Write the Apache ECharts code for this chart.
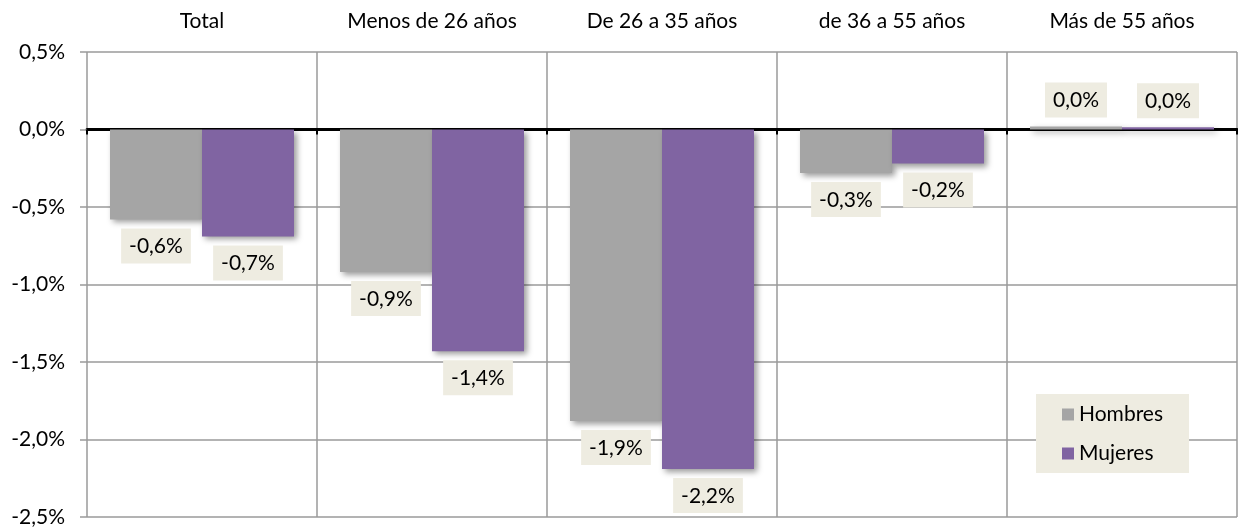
<!DOCTYPE html>
<html>
<head>
<meta charset="utf-8">
<script src="https://cdn.jsdelivr.net/npm/echarts@6/dist/echarts.min.js"></script>
<style>
  html, body { margin: 0; padding: 0; background: #fff; }
  #chart { width: 1238px; height: 529px; }
</style>
</head>
<body>
<div id="chart"></div>
<script>
const categories = ['Total', 'Menos de 26 años', 'De 26 a 35 años', 'de 36 a 55 años', 'Más de 55 años'];
const seriesNames = ['Hombres', 'Mujeres'];
const hombres = [-0.58, -0.92, -1.88, -0.28, 0.02];
const mujeres = [-0.69, -1.43, -2.19, -0.22, 0.015];
const yMin = -2.5, yMax = 0.5, yInterval = 0.5;

const FONT = 'Lato';
const FS = 21;
const GRID_COLOR = '#9a9a9a';
const fmt = v => v.toFixed(1).replace('.', ',') + '%';

const labelStyle = {
  show: true,
  position: 'outside',
  distance: 9,
  formatter: p => fmt(p.value),
  backgroundColor: '#EEECE1',
  padding: [8, 8, 7, 8],
  lineHeight: 20,
  fontSize: FS,
  fontFamily: FONT,
  color: '#000'
};
const shadow = {
  shadowColor: 'rgba(0,0,0,0.4)',
  shadowBlur: 6,
  shadowOffsetX: 3,
  shadowOffsetY: 3
};

const chart = echarts.init(document.getElementById('chart'));
chart.setOption({
  animation: false,
  backgroundColor: '#fff',
  grid: { left: 87, right: 1, top: 52, bottom: 12, containLabel: false },
  legend: {
    orient: 'vertical',
    left: 1036,
    top: 394,
    backgroundColor: '#EEECE1',
    padding: [10, 26, 9, 26],
    itemGap: 18,
    itemWidth: 12,
    itemHeight: 12,
    icon: 'rect',
    data: seriesNames,
    textStyle: { fontSize: FS, fontFamily: FONT, color: '#000', lineHeight: 20 }
  },
  xAxis: [
    {
      type: 'category',
      data: categories,
      position: 'top',
      axisLine: { show: false, onZero: false },
      axisTick: { show: false },
      axisLabel: { margin: 20, fontSize: FS, fontFamily: FONT, color: '#000' },
      splitLine: { show: true, lineStyle: { color: GRID_COLOR, width: 1.5 } }
    },
    {
      type: 'category',
      data: categories,
      position: 'bottom',
      axisLine: { show: true, onZero: true, lineStyle: { color: '#000', width: 3 } },
      axisTick: { show: true, length: 5, lineStyle: { color: '#000', width: 2 } },
      axisLabel: { show: false },
      splitLine: { show: false }
    }
  ],
  yAxis: {
    type: 'value',
    min: yMin,
    max: yMax,
    interval: yInterval,
    axisLine: { show: false },
    axisTick: { show: true, length: 7, lineStyle: { color: GRID_COLOR, width: 1.5 } },
    axisLabel: { margin: 22, formatter: v => fmt(v), fontSize: FS, fontFamily: FONT, color: '#000' },
    splitLine: { show: true, lineStyle: { color: GRID_COLOR, width: 1.5 } }
  },
  series: [
    {
      name: seriesNames[0],
      type: 'bar',
      xAxisIndex: 0,
      data: hombres,
      barGap: '0%',
      barCategoryGap: '20%',
      itemStyle: Object.assign({ color: '#A5A5A5' }, shadow),
      label: labelStyle
    },
    {
      name: seriesNames[1],
      type: 'bar',
      xAxisIndex: 0,
      data: mujeres,
      barGap: '0%',
      barCategoryGap: '20%',
      itemStyle: Object.assign({ color: '#8064A2' }, shadow),
      label: labelStyle
    }
  ]
});
</script>
</body>
</html>
